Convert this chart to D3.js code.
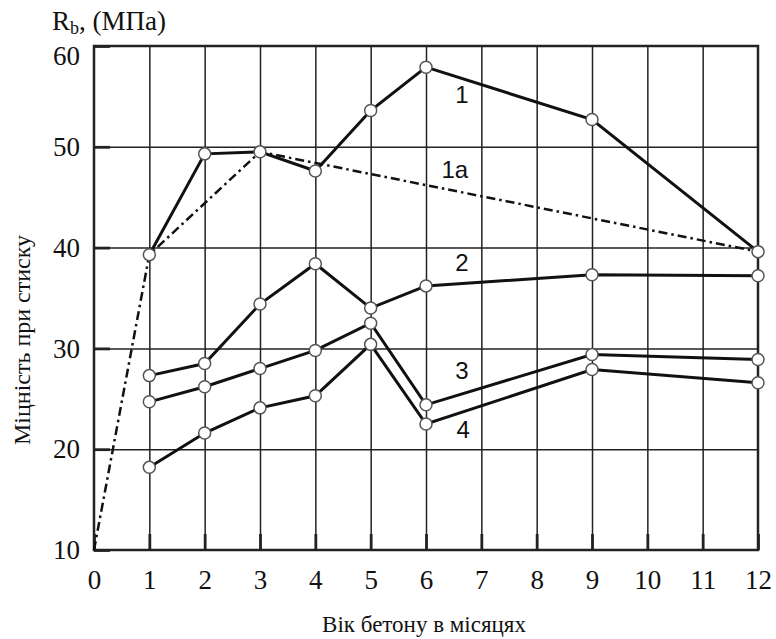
<!DOCTYPE html>
<html>
<head>
<meta charset="utf-8">
<script src="https://cdn.jsdelivr.net/npm/d3@7"></script>
<style>
  body { margin: 0; background: #fff; }
  .tick text { font-family: "Liberation Serif", "Times New Roman", serif; font-size: 27px; fill: #111; }
  .lbl { font-family: "Liberation Sans", Arial, sans-serif; font-size: 24px; fill: #111; }
  .ttl { font-family: "Liberation Serif", "Times New Roman", serif; font-size: 22px; fill: #111; }
</style>
</head>
<body>
<svg id="chart" width="776" height="639"></svg>
<script>
// months where measurements were taken
var months = [1, 2, 3, 4, 5, 6, 9, 12];
var series1 = [39.3, 49.3, 49.5, 47.6, 53.6, 57.9, 52.7, 39.6];
var series2 = [27.3, 28.5, 34.4, 38.4, 34.0, 36.2, 37.3, 37.2];
var series3 = [24.7, 26.2, 28.0, 29.8, 32.5, 24.4, 29.4, 28.9];
var series4 = [18.2, 21.6, 24.1, 25.3, 30.4, 22.5, 27.9, 26.6];
// dash-dot envelope 1a
var months1a = [0, 1, 3, 12];
var series1a = [10, 39.3, 49.5, 39.6];

var xTicks = [0, 1, 2, 3, 4, 5, 6, 7, 8, 9, 10, 11, 12];
var yTicks = [10, 20, 30, 40, 50, 60];

// curve labels, placed in data units
var labelText = ["1", "1a", "2", "3", "4"];
var labelX = [6.65, 6.52, 6.65, 6.65, 6.67];
var labelY = [55.2, 47.8, 38.5, 27.8, 22.0];

var margin = {top: 46, right: 18, bottom: 89, left: 94};
var width = 776 - margin.left - margin.right;
var height = 639 - margin.top - margin.bottom;

var svg = d3.select("#chart");
var g = svg.append("g").attr("transform", "translate(" + margin.left + "," + margin.top + ")");

var x = d3.scaleLinear().domain([0, 12]).range([0, width]);
var y = d3.scaleLinear().domain([10, 60]).range([height, 0]);

// grid
g.append("g")
    .attr("class", "grid")
    .call(d3.axisBottom(x).tickValues(xTicks.slice(1, -1)).tickSize(height).tickFormat(""))
    .call(function (s) { s.select(".domain").remove(); });
g.append("g")
    .attr("class", "grid")
    .call(d3.axisLeft(y).tickValues(yTicks.slice(1, -1)).tickSize(-width).tickFormat(""))
    .call(function (s) { s.select(".domain").remove(); });
g.selectAll(".grid line").attr("stroke", "#222").attr("stroke-width", 1.5);

// short thick inner ticks
g.append("g")
    .attr("class", "stub")
    .attr("transform", "translate(0," + height + ")")
    .call(d3.axisBottom(x).tickValues(xTicks).tickSize(-16).tickFormat(""));
g.append("g")
    .attr("class", "stub")
    .call(d3.axisLeft(y).tickValues(yTicks).tickSize(-16).tickFormat(""));
g.selectAll(".stub .domain").remove();
g.selectAll(".stub line").attr("stroke", "#222").attr("stroke-width", 2.8);

// frame
g.append("rect")
    .attr("width", width)
    .attr("height", height)
    .attr("fill", "none")
    .attr("stroke", "#222")
    .attr("stroke-width", 2.5);

// tick labels
var xAxis = g.append("g")
    .attr("transform", "translate(0," + height + ")")
    .call(d3.axisBottom(x).tickValues(xTicks).tickSize(0).tickPadding(20));
xAxis.select(".domain").remove();

var yAxis = g.append("g")
    .call(d3.axisLeft(y).tickValues(yTicks).tickSize(0).tickPadding(14));
yAxis.select(".domain").remove();
yAxis.selectAll(".tick text")
    .filter(function (d) { return d === 60; })
    .attr("dy", "0.7em");

// curves
var line = d3.line()
    .x(function (d) { return x(d[0]); })
    .y(function (d) { return y(d[1]); });

g.append("path")
    .datum(d3.zip(months1a, series1a))
    .attr("d", line)
    .attr("fill", "none")
    .attr("stroke", "#111")
    .attr("stroke-width", 2.5)
    .attr("stroke-dasharray", "9,4,2.5,4");

var allSeries = [series1, series2, series3, series4];
allSeries.forEach(function (vals) {
    var pts = d3.zip(months, vals);
    g.append("path")
        .datum(pts)
        .attr("d", line)
        .attr("fill", "none")
        .attr("stroke", "#111")
        .attr("stroke-width", 3);
});

allSeries.forEach(function (vals) {
    g.selectAll(null)
        .data(d3.zip(months, vals))
        .enter()
        .append("circle")
        .attr("cx", function (d) { return x(d[0]); })
        .attr("cy", function (d) { return y(d[1]); })
        .attr("r", 6)
        .attr("fill", "#fff")
        .attr("stroke", "#555")
        .attr("stroke-width", 1.5);
});

g.selectAll(".lbl")
    .data(labelText)
    .enter()
    .append("text")
    .attr("class", "lbl")
    .attr("x", function (d, i) { return x(labelX[i]); })
    .attr("y", function (d, i) { return y(labelY[i]); })
    .attr("dy", "0.36em")
    .attr("text-anchor", "middle")
    .text(function (d) { return d; });

// titles
var unitTitle = svg.append("text")
    .attr("class", "ttl")
    .attr("x", 52)
    .attr("y", 30)
    .style("font-size", "27px");
unitTitle.append("tspan").text("R");
unitTitle.append("tspan").attr("dy", 4).style("font-size", "18px").text("b");
unitTitle.append("tspan").attr("dy", -4).text(", (МПа)");

svg.append("text")
    .attr("class", "ttl")
    .attr("transform", "translate(30,340) rotate(-90)")
    .attr("text-anchor", "middle")
    .style("font-size", "24px")
    .text("Міцність при стиску");

svg.append("text")
    .attr("class", "ttl")
    .attr("x", 424)
    .attr("y", 632)
    .attr("text-anchor", "middle")
    .style("font-size", "23px")
    .text("Вік бетону в місяцях");
</script>
</body>
</html>
